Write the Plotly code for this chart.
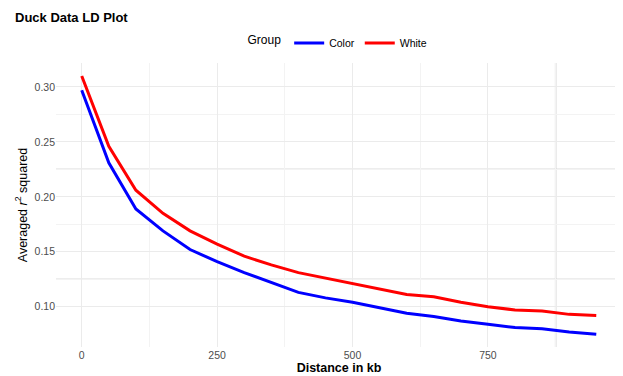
import plotly.graph_objects as go

distance_kb = [0, 50, 100, 150, 200, 250, 300, 350, 400, 450, 500, 550, 600, 650, 700, 750, 800, 850, 900, 950]
color_r2 = [0.297, 0.231, 0.189, 0.169, 0.152, 0.141, 0.131, 0.122, 0.113, 0.108, 0.104, 0.099, 0.094, 0.091, 0.087, 0.084, 0.081, 0.080, 0.077, 0.075]
white_r2 = [0.310, 0.246, 0.206, 0.185, 0.169, 0.157, 0.146, 0.138, 0.131, 0.126, 0.121, 0.116, 0.111, 0.109, 0.104, 0.100, 0.097, 0.096, 0.093, 0.092]
x_ticks = [0, 250, 500, 750]
y_ticks = [0.10, 0.15, 0.20, 0.25, 0.30]
y_tick_labels = ["0.10", "0.15", "0.20", "0.25", "0.30"]

FONT = "Liberation Sans, Arial, sans-serif"
OFF = 8  # default page body margin
W, H = 623 - OFF, 376 - OFF

fig = go.Figure()
fig.add_trace(go.Scatter(x=distance_kb, y=color_r2, mode="lines", name="Color",
                         line=dict(color="#0000FF", width=3)))
fig.add_trace(go.Scatter(x=distance_kb, y=white_r2, mode="lines", name="White",
                         line=dict(color="#FF0000", width=3)))

# slightly darker grid lines visible in the reference
for yv in [0.125, 0.225]:
    fig.add_shape(type="line", xref="paper", x0=0, x1=1, yref="y", y0=yv, y1=yv,
                  line=dict(color="#DCDCDC", width=1.5), layer="below")
fig.add_shape(type="line", xref="x", x0=875, x1=875, yref="paper", y0=0, y1=1,
              line=dict(color="#CCCCCC", width=1.5), layer="below")

fig.update_layout(
    width=W, height=H,
    margin=dict(l=56 - OFF, r=1, t=63 - OFF, b=29, autoexpand=False),
    paper_bgcolor="white", plot_bgcolor="white",
    font=dict(family=FONT, color="black"),
    title=dict(text="<b>Duck Data LD Plot</b>", x=(15 - OFF) / W, xanchor="left",
               yref="container", y=1 - (17 - OFF) / H, yanchor="middle",
               font=dict(size=13, color="black")),
    legend=dict(orientation="h", xref="paper", x=0.5, xanchor="center",
                yref="container", y=1 - (43 - OFF) / H, yanchor="middle",
                title=dict(text="Group", font=dict(size=12)), font=dict(size=10.5),
                itemwidth=30, bgcolor="rgba(0,0,0,0)"),
    showlegend=True,
    xaxis=dict(range=[-47.5, 997.5], tickvals=x_ticks, ticktext=[str(t) for t in x_ticks],
               automargin=False,
               showgrid=True, gridcolor="#EBEBEB", gridwidth=1,
               minor=dict(tickvals=[125, 375, 625, 875], showgrid=True, gridcolor="#F3F3F3", gridwidth=0.7),
               zeroline=False, showline=False, ticks="",
               tickfont=dict(size=10.5, color="#4D4D4D"),
               title=dict(text="<b>Distance in kb</b>", font=dict(size=12.5, color="black"), standoff=2)),
    yaxis=dict(range=[0.0633, 0.3218], tickvals=y_ticks, ticktext=y_tick_labels,
               automargin=False,
               showgrid=True, gridcolor="#EBEBEB", gridwidth=1,
               minor=dict(tickvals=[0.125, 0.175, 0.225, 0.275], showgrid=True, gridcolor="#F3F3F3", gridwidth=0.7),
               zeroline=False, showline=False, ticks="",
               tickfont=dict(size=10.5, color="#4D4D4D"),
               title=dict(text="Averaged <i>r</i><sup>2</sup> squared", font=dict(size=12.5, color="black"), standoff=4)),
)

fig.write_html("out.html")
